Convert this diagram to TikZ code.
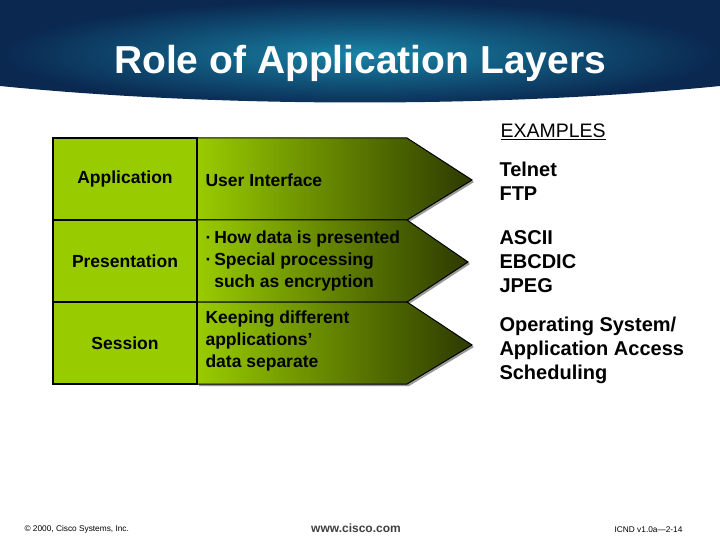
\documentclass[tikz,border=0pt]{standalone}
\usepackage{fontspec}
\setmainfont{Liberation Sans}
\usetikzlibrary{shadows}
\definecolor{lgreen}{RGB}{153,204,0}
\definecolor{dgreen}{RGB}{45,58,0}
\definecolor{hdark}{RGB}{10,40,80}
\definecolor{hlight}{RGB}{25,130,165}
\newcommand{\mydot}{\textperiodcentered\,}
\tikzset{
  layer/.style={draw=black,line width=1.6pt,fill=lgreen},
  arr/.style={draw=black,line width=1pt,left color=lgreen,right color=dgreen,drop shadow={shadow xshift=2pt,shadow yshift=-2pt,fill=black!80}},
  lbl/.style={font=\bfseries\fontsize{17.5}{22}\selectfont},
  ex/.style={font=\bfseries\fontsize{20}{24}\selectfont,align=left,anchor=west},
  foot/.style={font=\fontsize{8.3}{10}\selectfont}
}
\begin{document}
\begin{tikzpicture}[x=1pt,y=-1pt]
\useasboundingbox (0,0) rectangle (720,540);
\fill[white] (0,0) rectangle (720,540);
\shade[inner color=hlight,outer color=hdark] (0,0) -- (720,0) -- (720,86) .. controls (500,108) and (220,108) .. (0,86) -- cycle;
\node[text=white,font=\bfseries\fontsize{39}{42}\selectfont] (title) at (360,63) {Role of Application Layers};
\node[font=\fontsize{19.5}{22}\selectfont,anchor=west] (exh) at (497,132) {\underline{EXAMPLES}};
% arrows
\path[arr] (197,138) -- (407,138) -- (472,180) -- (407,220) -- (197,220) -- cycle;
\path[arr] (197,220) -- (407,220) -- (468,262) -- (407,302) -- (197,302) -- cycle;
\path[arr] (197,302) -- (407,302) -- (472,345) -- (407,384) -- (197,384) -- cycle;
% layers
\node[layer,minimum width=144,minimum height=82,inner sep=0,lbl] (app) at (125,179) {Application};
\node[layer,minimum width=144,minimum height=82,inner sep=0,lbl] (pres) at (125,261) {Presentation};
\node[layer,minimum width=144,minimum height=82,inner sep=0,lbl] (sess) at (125,343) {Session};
\draw[line width=1.6pt] (197,138) -- (197,384);
% descriptions
\node[lbl,anchor=west] (d1) at (202,180) {User Interface};
\node[lbl,anchor=west,align=left] (d2) at (202,261) {\mydot How data is presented\\\mydot Special processing\\\phantom{\mydot}such as encryption};
\node[lbl,anchor=west,align=left] (d3) at (202,341) {Keeping different\\applications’\\data separate};
% examples
\node[ex] (e1) at (496,181) {Telnet\\FTP};
\node[ex] (e2) at (496,262) {ASCII\\EBCDIC\\JPEG};
\node[ex] (e3) at (496,350) {Operating System/\\Application Access\\Scheduling};
% footer
\node[foot,anchor=west] (c) at (21,529) {© 2000, Cisco Systems, Inc.};
\node[font=\bfseries\fontsize{12}{14}\selectfont,text=black!75] (w) at (356,528) {www.cisco.com};
\node[foot,anchor=east] (p) at (686,530) {ICND v1.0a—2-14};
\end{tikzpicture}
\end{document}
